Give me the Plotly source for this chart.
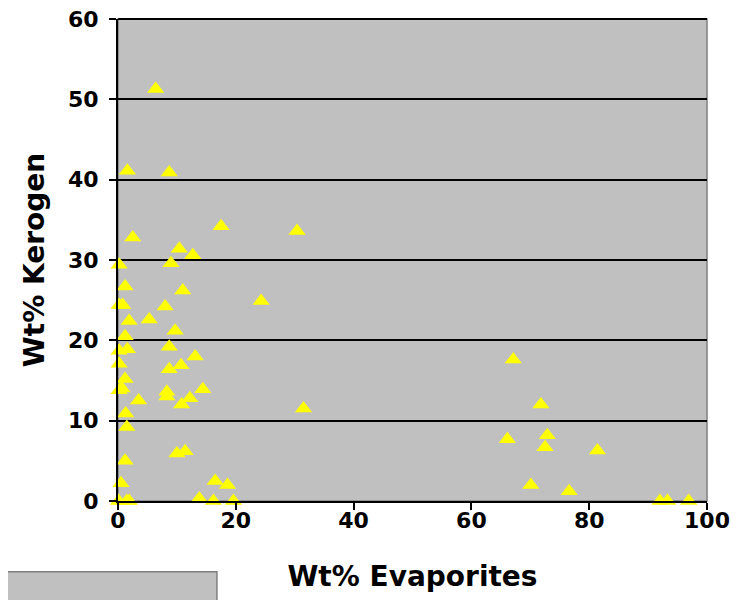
import plotly.graph_objects as go

# Wt% Evaporites (x) and Wt% Kerogen (y)
evaporites = [6.4, 1.6, 8.7, 17.5, 30.4, 2.5, 10.4, 12.7, 0.2, 9.0,
              1.2, 11.0, 24.3, 0.2, 0.8, 8.0, 5.3, 1.9, 9.7, 1.2,
              1.6, 0.2, 8.7, 13.1, 0.2, 10.7, 8.7, 1.2, 0.7, 0.2,
              14.4, 8.3, 8.3, 12.2, 3.5, 10.8, 31.5, 1.3, 1.5, 11.4,
              10.0, 1.2, 16.5, 18.6, 0.5, 13.8, 0.1, 1.5, 1.9, 16.2,
              19.6, 67.1, 71.8, 66.1, 72.9, 72.5, 81.4, 70.1, 76.6, 92.0,
              93.3, 96.9]
kerogen = [51.3, 41.1, 40.9, 34.2, 33.6, 32.8, 31.4, 30.6, 29.4, 29.6,
           26.7, 26.2, 24.9, 24.4, 24.4, 24.2, 22.6, 22.4, 21.2, 20.5,
           18.9, 18.7, 19.2, 18.0, 17.1, 16.9, 16.4, 15.2, 14.0, 13.8,
           13.9, 13.6, 13.0, 12.8, 12.5, 12.0, 11.5, 10.9, 9.2, 6.2,
           5.9, 5.0, 2.5, 2.0, 2.2, 0.3, 0.0, 0.0, 0.0, 0.0,
           0.0, 17.6, 12.0, 7.7, 8.2, 6.7, 6.3, 2.0, 1.2, 0.0,
           0.0, 0.0]

x_ticks = [0, 20, 40, 60, 80, 100]
y_ticks = [0, 10, 20, 30, 40, 50, 60]

FONT = "DejaVu Sans"

fig = go.Figure()
fig.add_trace(go.Scatter(
    x=evaporites, y=kerogen, mode="markers",
    marker=dict(symbol="triangle-up", size=15, color="#FFFF00",
                line=dict(width=0)),
    cliponaxis=False, showlegend=False, hoverinfo="x+y",
))

# the page body adds an 8px offset, margins compensate for it
fig.update_layout(
    width=748, height=600,
    margin=dict(l=110, r=49, t=11, b=107, autoexpand=False),
    paper_bgcolor="white",
    plot_bgcolor="#C0C0C0",
    showlegend=False,
    font=dict(family=FONT, color="black"),
    shapes=[
        # plot-area border (grey, visible on right side)
        dict(type="rect", xref="paper", yref="paper", x0=0, x1=1, y0=0, y1=1,
             line=dict(color="#808080", width=1.5), layer="below"),
        # black top edge (gridline at the top of the range)
        dict(type="line", xref="paper", yref="paper", x0=0, x1=1, y0=1, y1=1,
             line=dict(color="black", width=2), layer="below"),
        # grey box at the bottom-left corner
        dict(type="rect", xref="paper", yref="paper",
             x0=-0.21, x1=0.168, y0=-0.147, y1=-0.24,
             fillcolor="#C0C0C0", line=dict(color="#808080", width=1.5)),
    ],
)

fig.update_xaxes(
    range=[0, 100], tickvals=x_ticks, ticktext=[str(v) for v in x_ticks],
    showgrid=False, zeroline=False, automargin=False,
    showline=True, linecolor="black", linewidth=2,
    ticks="outside", ticklen=7, tickwidth=2, tickcolor="black",
    ticklabelstandoff=-8, ticklabeloverflow="allow",
    tickfont=dict(family=FONT, size=22, color="black", weight="bold"),
    title=dict(text="Wt% Evaporites", standoff=34,
               font=dict(family=FONT, size=28, color="black", weight="bold")),
)
fig.update_yaxes(
    range=[0, 60], tickvals=y_ticks, ticktext=[str(v) for v in y_ticks],
    showgrid=True, gridcolor="black", gridwidth=2, zeroline=False,
    automargin=False,
    showline=True, linecolor="black", linewidth=2,
    ticks="outside", ticklen=7, tickwidth=2, tickcolor="black",
    ticklabelstandoff=6, ticklabeloverflow="allow",
    tickfont=dict(family=FONT, size=22, color="black", weight="bold"),
    title=dict(text="Wt% Kerogen", standoff=15,
               font=dict(family=FONT, size=28, color="black", weight="bold")),
)

fig.write_html("out.html")
